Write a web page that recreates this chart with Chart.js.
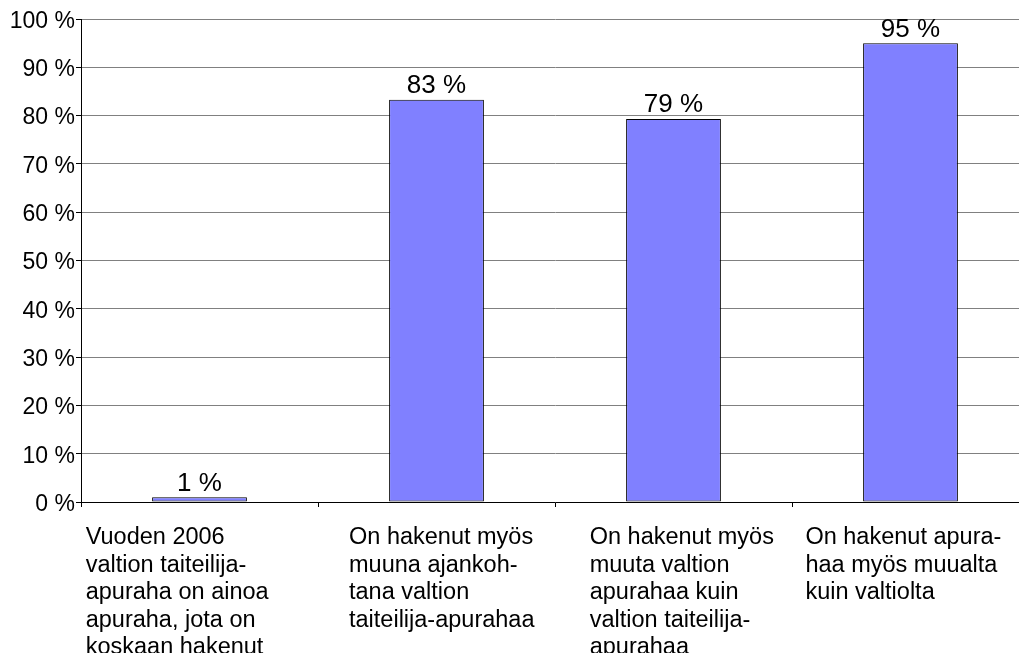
<!DOCTYPE html>
<html>
<head>
<meta charset="utf-8">
<script src="https://cdn.jsdelivr.net/npm/chart.js@4"></script>
<style>
  html, body { margin: 0; padding: 0; background: #fff; overflow: hidden; width: 1019px; height: 653px; }
  canvas { display: block; }
</style>
</head>
<body>
<canvas id="c" width="1040" height="653"></canvas>
<script>
const categories = [
  ["Vuoden 2006", "valtion taiteilija-", "apuraha on ainoa", "apuraha, jota on", "koskaan hakenut"],
  ["On hakenut myös", "muuna ajankoh-", "tana valtion", "taiteilija-apurahaa"],
  ["On hakenut myös", "muuta valtion", "apurahaa kuin", "valtion taiteilija-", "apurahaa"],
  ["On hakenut apura-", "haa myös muualta", "kuin valtiolta"]
];
const values = [1, 83.3, 79.3, 95];
const valueLabels = ["1 %", "83 %", "79 %", "95 %"];
const yTicks = [0, 10, 20, 30, 40, 50, 60, 70, 80, 90, 100];

const FONT = "'Liberation Sans', Arial, sans-serif";

const labelPlugin = {
  id: 'customLabels',
  afterDatasetsDraw(chart, args, opts) {
    const ctx = chart.ctx;
    const meta = chart.getDatasetMeta(0);
    const xs = chart.scales.x;
    ctx.save();
    ctx.fillStyle = '#000';
    ctx.font = '26px ' + FONT;
    ctx.textAlign = 'center';
    ctx.textBaseline = 'alphabetic';
    meta.data.forEach((bar, i) => {
      ctx.fillText(valueLabels[i], bar.x, bar.y - 6.5);
    });
    ctx.font = '23.5px ' + FONT;
    ctx.textAlign = 'left';
    const catW = (xs.right - xs.left) / categories.length;
    categories.forEach((lines, i) => {
      const x0 = xs.left + catW * i + opts.shifts[i];
      lines.forEach((ln, j) => {
        ctx.fillText(ln, x0, opts.firstBaseline + j * opts.lineStep);
      });
    });
    ctx.restore();
  }
};

new Chart(document.getElementById('c'), {
  type: 'bar',
  data: {
    labels: categories.map(c => c.join(' ')),
    datasets: [{
      data: values,
      backgroundColor: '#8080FF',
      borderColor: '#000000',
      borderWidth: 1,
      borderSkipped: false,
      barPercentage: 0.4,
      categoryPercentage: 1.0
    }]
  },
  options: {
    responsive: false,
    animation: false,
    devicePixelRatio: 1,
    layout: { padding: { top: 19, right: 11, left: 0, bottom: 0 } },
    plugins: {
      legend: { display: false },
      tooltip: { enabled: false },
      customLabels: { shifts: [4.7, 31, 34.7, 13.4], firstBaseline: 544.3, lineStep: 27.4 }
    },
    scales: {
      x: {
        type: 'category',
        offset: true,
        grid: {
          offset: true,
          drawOnChartArea: false,
          drawTicks: true,
          tickLength: 5,
          tickColor: '#000',
          tickWidth: 1
        },
        border: { display: true, color: '#000', width: 1 },
        ticks: { display: false },
        afterFit(scale) { scale.height = 151; }
      },
      y: {
        min: 0,
        max: 100,
        afterBuildTicks(scale) { scale.ticks = yTicks.map(v => ({ value: v })); },
        ticks: {
          callback: v => ['', v + ' %'],
          color: '#000',
          font: { family: FONT, size: 23, lineHeight: '5px' },
          padding: 1
        },
        grid: {
          color: '#808080',
          lineWidth: 1,
          tickLength: 5,
          tickColor: '#000',
          drawTicks: true
        },
        border: { display: true, color: '#000', width: 1 },
        afterFit(scale) { scale.width = 81; }
      }
    }
  },
  plugins: [labelPlugin]
});
</script>
</body>
</html>
